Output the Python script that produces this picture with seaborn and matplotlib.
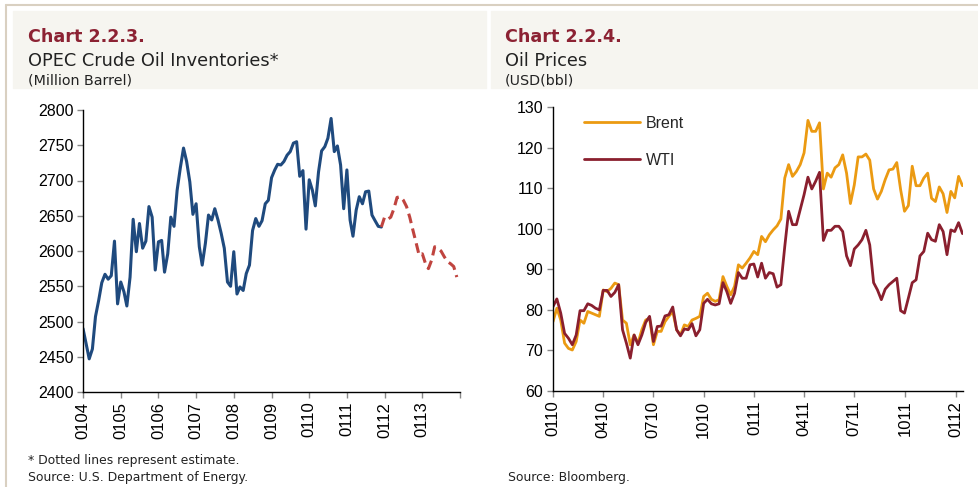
import numpy as np
import pandas as pd
import matplotlib
matplotlib.use("Agg")
import matplotlib.pyplot as plt
from matplotlib.patches import Rectangle
from matplotlib.lines import Line2D
import seaborn as sns

# ---- Chart 2.2.3: OPEC crude oil inventories (million barrel), monthly from 2004-01
inv_start = "2004-01-01"
inv_actual = [
    2490, 2468, 2447, 2461, 2507, 2530, 2555, 2567, 2560, 2565, 2614, 2525,
    2556, 2542, 2522, 2563, 2645, 2599, 2639, 2604, 2614, 2663, 2648, 2573,
    2613, 2615, 2570, 2596, 2648, 2635, 2686, 2718, 2746, 2727, 2698, 2652,
    2667, 2606, 2580, 2611, 2651, 2644, 2660, 2644, 2625, 2604, 2556, 2550,
    2599, 2539, 2549, 2544, 2568, 2580, 2629, 2646, 2635, 2643, 2667, 2672,
    2704, 2715, 2723, 2722, 2727, 2736, 2741, 2753, 2755, 2706, 2714, 2631,
    2701, 2686, 2664, 2712, 2742, 2748, 2760, 2788, 2741, 2749, 2722, 2660,
    2715, 2644, 2621, 2658, 2677, 2667, 2684, 2685, 2651, 2643, 2635, 2634,
]
# estimate, starting from the last actual month (2011-12)
inv_estimate = [
    2634, 2648, 2645, 2648, 2660, 2676, 2677, 2672, 2663, 2648, 2630, 2612,
    2594, 2596, 2582, 2575, 2587, 2606, 2604, 2600, 2592, 2585, 2582, 2578,
    2563,
]
inv_ticks = [str(y) for y in range(2004, 2015)]

# ---- Chart 2.2.4: oil prices (USD/bbl), weekly from 2010-01-01
price_start = "2010-01-01"
brent = [
    77.1, 80.4, 77.5, 71.8, 70.5, 70.1, 72.2, 77.5, 76.7, 79.6, 79.2, 78.8,
    78.4, 84.9, 84.5, 85.3, 86.6, 86.2, 77.5, 76.7, 71.4, 73.8, 71.8, 75.1,
    77.5, 77.9, 71.4, 74.7, 74.7, 77.1, 78.4, 79.6, 75.1, 73.8, 76.3, 75.9,
    77.5, 77.9, 78.4, 83.3, 84.1, 82.6, 82.1, 82.5, 88.2, 85.8, 83.7, 85.8,
    91.1, 90.3, 91.5, 92.8, 94.4, 93.6, 98.1, 96.8, 98.5, 99.7, 100.7, 102.4,
    112.5, 115.8, 112.9, 114.1, 115.8, 118.7, 126.7, 124.0, 124.0, 126.1, 109.8, 113.7,
    112.7, 115.0, 115.8, 118.2, 113.7, 106.2, 110.8, 117.7, 117.7, 118.4, 116.9, 109.8,
    107.3, 109.2, 112.1, 114.5, 114.7, 116.3, 109.6, 104.3, 105.7, 115.4, 110.6, 110.6,
    112.5, 113.7, 107.5, 106.7, 110.3, 108.6, 104.0, 109.2, 107.6, 112.9, 110.6,
]
wti = [
    80.8, 82.7, 79.2, 74.2, 73.0, 71.4, 73.8, 79.8, 79.8, 81.5, 81.1, 80.4,
    80.0, 84.8, 84.8, 83.3, 84.3, 86.2, 75.1, 71.8, 68.1, 73.8, 71.4, 73.8,
    76.9, 78.4, 72.2, 75.9, 76.0, 78.5, 78.8, 80.7, 75.1, 73.6, 75.3, 75.1,
    76.6, 73.6, 75.1, 81.6, 82.6, 81.5, 81.2, 81.5, 86.7, 84.5, 81.6, 84.1,
    89.2, 87.8, 87.8, 91.1, 91.3, 88.1, 91.5, 87.8, 89.2, 88.9, 85.6, 86.2,
    95.6, 104.3, 101.0, 101.0, 104.7, 108.4, 112.7, 109.8, 111.7, 113.9, 97.1, 99.6,
    99.6, 100.6, 100.6, 99.3, 93.3, 90.9, 95.0, 96.0, 97.3, 99.6, 96.0, 86.7,
    84.9, 82.5, 85.1, 86.2, 87.0, 87.8, 79.8, 79.2, 82.9, 86.7, 87.4, 93.3,
    94.4, 98.9, 97.3, 96.9, 101.0, 99.3, 93.6, 99.7, 99.3, 101.5, 98.8,
]

BLUE = "#1f4a7e"
RED_EST = "#c0443f"
ORANGE = "#eb9a12"
MAROON = "#8a1f2e"
TITLE_RED = "#8c2233"
HEADER_BG = "#f6f5f0"
BORDER = "#d9d0c1"

sns.set_theme(style="ticks")
plt.rcParams["font.family"] = ["Liberation Sans", "DejaVu Sans"]

inv_dates = pd.date_range(inv_start, periods=len(inv_actual), freq="MS")
est_dates = pd.date_range(inv_dates[-1], periods=len(inv_estimate), freq="MS")
price_dates = pd.date_range(price_start, periods=len(brent), freq="W-FRI")

fig = plt.figure(figsize=(9.79, 4.87), dpi=100)

# page decoration: frame lines and grey header boxes
fig.add_artist(Line2D([6 / 979, 1], [1 - 5 / 487] * 2, color=BORDER, lw=1.5))
fig.add_artist(Line2D([6 / 979] * 2, [0, 1 - 5 / 487], color=BORDER, lw=1.5))
fig.add_artist(Rectangle((13 / 979, 1 - 88 / 487), 473 / 979, 77 / 487,
                         color=HEADER_BG, zorder=0))
fig.add_artist(Rectangle((491 / 979, 1 - 88 / 487), 488 / 979, 77 / 487,
                         color=HEADER_BG, zorder=0))

title_font = ["DejaVu Sans"]
for x0, num, sub, unit in [(28, "Chart 2.2.3.", "OPEC Crude Oil Inventories*", "(Million Barrel)"),
                           (505, "Chart 2.2.4.", "Oil Prices", "(USD(bbl)")]:
    fig.text(x0 / 979, 1 - 42 / 487, num, color=TITLE_RED, fontsize=12.6,
             fontweight="bold", family=title_font, va="baseline")
    fig.text(x0 / 979, 1 - 66 / 487, sub, color="#222222", fontsize=12.8,
             family=title_font, va="baseline")
    fig.text(x0 / 979, 1 - 84 / 487, unit, color="#222222", fontsize=10.3,
             family=title_font, va="baseline")

fig.text(28 / 979, 1 - 464 / 487, "* Dotted lines represent estimate.",
         fontsize=8.9, color="#222222", family=title_font, va="baseline")
fig.text(28 / 979, 1 - 481 / 487, "Source: U.S. Department of Energy.",
         fontsize=8.9, color="#222222", family=title_font, va="baseline")
fig.text(508 / 979, 1 - 481 / 487, "Source: Bloomberg.",
         fontsize=8.9, color="#222222", family=title_font, va="baseline")


def style_axes(ax):
    for side in ["top", "right"]:
        ax.spines[side].set_visible(False)
    for side in ["left", "bottom"]:
        ax.spines[side].set_color("black")
        ax.spines[side].set_linewidth(1.0)
    ax.tick_params(axis="both", length=4, width=1, color="#888888",
                   labelcolor="black", pad=3)
    ax.tick_params(axis="y", labelsize=11.5)
    ax.tick_params(axis="x", labelsize=12, rotation=90)
    ax.set_xlabel("")
    ax.set_ylabel("")
    ax.set_facecolor("white")


# ---- left panel
ax1 = fig.add_axes([83 / 979, 1 - 392 / 487, 377 / 979, 282 / 487])
sns.lineplot(x=inv_dates, y=inv_actual, ax=ax1, color=BLUE, lw=2.2)
sns.lineplot(x=est_dates, y=inv_estimate, ax=ax1, color=RED_EST, lw=2.2,
             dashes=False, linestyle=(0, (3.2, 1.8)))
ax1.set_ylim(2400, 2800)
ax1.set_yticks(range(2400, 2801, 50))
ax1.set_xlim(pd.Timestamp("2004-01-01"), pd.Timestamp("2014-01-01"))
year_ticks = pd.to_datetime([f"{y}-01-01" for y in inv_ticks])
ax1.set_xticks(year_ticks)
ax1.set_xticklabels([d.strftime("%m%y") for d in year_ticks[:-1]] + [""])
style_axes(ax1)

# ---- right panel
ax2 = fig.add_axes([553 / 979, 1 - 391 / 487, 410 / 979, 284 / 487])
sns.lineplot(x=price_dates, y=brent, ax=ax2, color=ORANGE, lw=2.0, label="Brent")
sns.lineplot(x=price_dates, y=wti, ax=ax2, color=MAROON, lw=2.0, label="WTI")
ax2.set_ylim(60, 130)
ax2.set_yticks(range(60, 131, 10))
ax2.set_xlim(pd.Timestamp("2010-01-01"), price_dates[-1] + pd.Timedelta(days=1))
q_ticks = pd.date_range("2010-01-01", "2012-01-01", freq="QS")
ax2.set_xticks(q_ticks)
ax2.set_xticklabels([d.strftime("%m%y") for d in q_ticks])
style_axes(ax2)
ax2.legend(loc="upper left", bbox_to_anchor=(0.04, 1.02), frameon=False,
           fontsize=11.5, handlelength=3.5, labelspacing=1.4, handletextpad=0.4)

fig.savefig("out.png", dpi=100, facecolor="white")
